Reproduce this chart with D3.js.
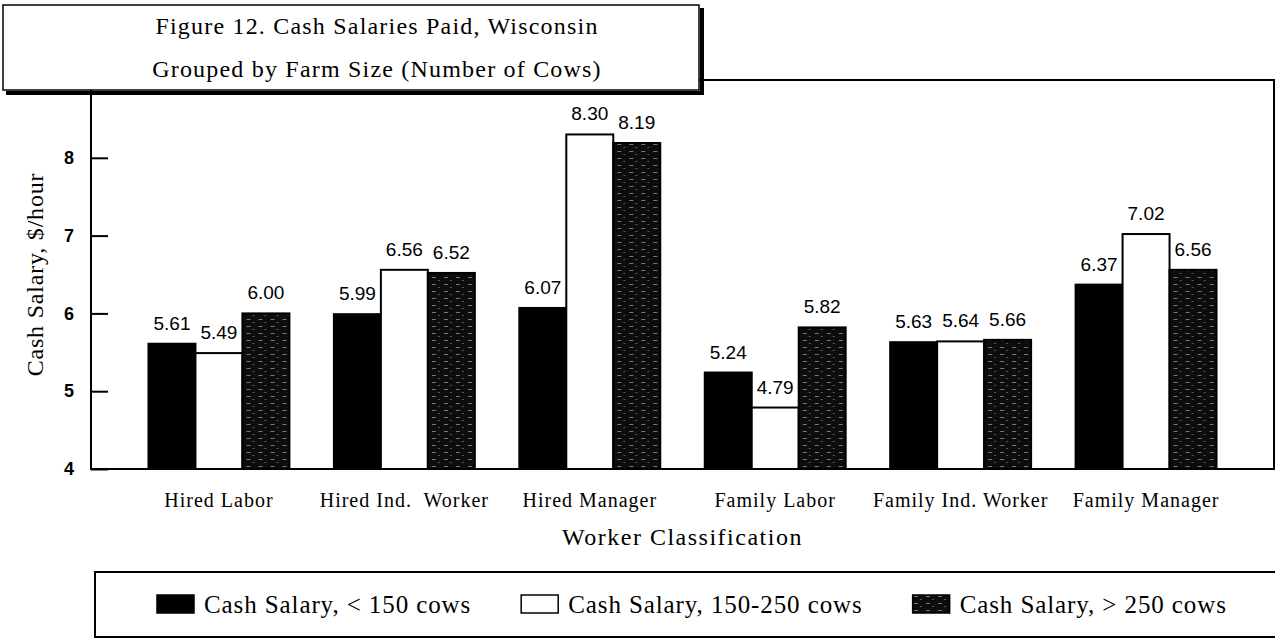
<!DOCTYPE html>
<html>
<head>
<meta charset="utf-8">
<script src="https://cdn.jsdelivr.net/npm/d3@7"></script>
<style>
  body { margin: 0; background: #fff; }
  svg { display: block; }
  text { white-space: pre; }
</style>
</head>
<body>
<div id="vis"></div>
<script>
//data----
const categories = ["Hired Labor", "Hired Ind.  Worker", "Hired Manager", "Family Labor", "Family Ind. Worker", "Family Manager"]
const seriesNames = ["Cash Salary, < 150 cows", "Cash Salary, 150-250 cows", "Cash Salary, > 250 cows"]
const small = [5.61, 5.99, 6.07, 5.24, 5.63, 6.37]
const medium = [5.49, 6.56, 8.30, 4.79, 5.64, 7.02]
const large = [6.00, 6.52, 8.19, 5.82, 5.66, 6.56]
const yTicks = [4, 5, 6, 7, 8]
const titleLines = ["Figure 12. Cash Salaries Paid, Wisconsin", "Grouped by Farm Size (Number of Cows)"]

const seriesValues = [small, medium, large]

//dimensions---
let dimensions = {
    width: 1275,
    height: 638,
    margins: { left: 91, right: 1, top: 80, bottom: 169 },
}
dimensions.boundedwidth = dimensions.width - dimensions.margins.left - dimensions.margins.right
dimensions.boundedheight = dimensions.height - dimensions.margins.top - dimensions.margins.bottom

const serif = "'Liberation Serif', 'Times New Roman', serif"
const sans = "'Liberation Sans', Arial, sans-serif"

//canvas----
const wrapper = d3.select("#vis")
    .append("svg")
    .attr("width", dimensions.width)
    .attr("height", dimensions.height)

// speckled dark fill for the > 250 cows series
const defs = wrapper.append("defs")
const pat = defs.append("pattern")
    .attr("id", "dots")
    .attr("patternUnits", "userSpaceOnUse")
    .attr("width", 12)
    .attr("height", 7)
pat.append("rect").attr("width", 12).attr("height", 7).attr("fill", "#0d0d0d")
pat.append("rect").attr("x", 2).attr("y", 1).attr("width", 4).attr("height", 1).attr("fill", "#777")
pat.append("rect").attr("x", 8).attr("y", 4).attr("width", 2).attr("height", 1).attr("fill", "#5a5a5a")

const fills = ["#000", "#fff", "url(#dots)"]

const bounds = wrapper.append("g")
    .attr("transform", `translate(${dimensions.margins.left},${dimensions.margins.top})`)

//scales------
const yScale = d3.scaleLinear()
    .domain([4, 9])
    .range([dimensions.boundedheight, 0])

const xScale = d3.scaleBand()
    .domain(categories)
    .range([0, dimensions.boundedwidth])
    .paddingInner(0.24)
    .paddingOuter(0.31)

const xSub = d3.scaleBand()
    .domain(d3.range(seriesNames.length))
    .range([0, xScale.bandwidth()])

//frame
bounds.append("rect")
    .attr("width", dimensions.boundedwidth)
    .attr("height", dimensions.boundedheight)
    .attr("fill", "none")
    .attr("stroke", "#000")
    .attr("stroke-width", 2)

//y axis
const yAxis = bounds.append("g")
    .call(d3.axisLeft(yScale).tickValues(yTicks).tickSizeInner(-17).tickSizeOuter(0).tickPadding(17).tickFormat(d3.format("d")))
yAxis.select(".domain").remove()
yAxis.selectAll("line").attr("stroke", "#000").attr("stroke-width", 2)
yAxis.selectAll("text")
    .style("font-family", sans)
    .style("font-size", "18px")
    .style("font-weight", "bold")
    .attr("fill", "#000")

wrapper.append("text")
    .attr("transform", `translate(43,${dimensions.margins.top + dimensions.boundedheight / 2}) rotate(-90)`)
    .attr("text-anchor", "middle")
    .style("font-family", serif)
    .style("font-size", "24px")
    .style("letter-spacing", "0.8px")
    .text("Cash Salary, $/hour")

//x labels
bounds.append("g")
    .selectAll("text")
    .data(categories)
    .enter().append("text")
    .attr("x", d => xScale(d) + xScale.bandwidth() / 2)
    .attr("y", dimensions.boundedheight + 38)
    .attr("text-anchor", "middle")
    .style("font-family", serif)
    .style("font-size", "20px")
    .style("letter-spacing", "1px")
    .text(d => d)

wrapper.append("text")
    .attr("x", dimensions.margins.left + dimensions.boundedwidth / 2)
    .attr("y", 545)
    .attr("text-anchor", "middle")
    .style("font-family", serif)
    .style("font-size", "24px")
    .style("letter-spacing", "1.5px")
    .text("Worker Classification")

//bars
const groups = bounds.append("g")
    .selectAll("g")
    .data(categories)
    .enter().append("g")
    .attr("transform", d => `translate(${xScale(d)},0)`)

groups.selectAll("rect")
    .data((d, i) => seriesValues.map((s, j) => ({ s: j, v: s[i] })))
    .enter().append("rect")
    .attr("x", d => xSub(d.s))
    .attr("width", xSub.bandwidth())
    .attr("y", d => yScale(d.v))
    .attr("height", d => dimensions.boundedheight - yScale(d.v))
    .attr("fill", d => fills[d.s])
    .attr("stroke", "#000")
    .attr("stroke-width", 2)

groups.selectAll(".val")
    .data((d, i) => seriesValues.map((s, j) => ({ s: j, v: s[i] })))
    .enter().append("text")
    .attr("class", "val")
    .attr("x", d => xSub(d.s) + xSub.bandwidth() / 2)
    .attr("y", d => yScale(d.v) - 14)
    .attr("text-anchor", "middle")
    .style("font-family", sans)
    .style("font-size", "19px")
    .text(d => d.v.toFixed(2))

//title box
const title = wrapper.append("g")
title.append("line").attr("x1", 6).attr("x2", 703).attr("y1", 93).attr("y2", 93).attr("stroke", "#000").attr("stroke-width", 4)
title.append("line").attr("x1", 702).attr("x2", 702).attr("y1", 8).attr("y2", 95).attr("stroke", "#000").attr("stroke-width", 4)
title.append("rect")
    .attr("x", 3).attr("y", 5).attr("width", 696).attr("height", 85)
    .attr("fill", "#fff").attr("stroke", "#000").attr("stroke-width", 1.5)
title.selectAll("text")
    .data(titleLines)
    .enter().append("text")
    .attr("x", 377)
    .attr("y", (d, i) => 34 + i * 43)
    .attr("text-anchor", "middle")
    .style("font-family", serif)
    .style("font-size", "24px")
    .style("letter-spacing", "1.2px")
    .text(d => d)

//legend
const legend = wrapper.append("g")
legend.append("rect")
    .attr("x", 95).attr("y", 572).attr("width", 1200).attr("height", 65)
    .attr("fill", "#fff").attr("stroke", "#000").attr("stroke-width", 2)

let lx = 157
seriesNames.forEach((name, i) => {
    legend.append("rect")
        .attr("x", lx).attr("y", 595).attr("width", 37).attr("height", 18)
        .attr("fill", fills[i]).attr("stroke", "#000").attr("stroke-width", 1.5)
    const t = legend.append("text")
        .attr("x", lx + 47).attr("y", 613)
        .style("font-family", serif)
        .style("font-size", "25px")
        .style("letter-spacing", "0.9px")
        .text(name)
    lx += 47 + t.node().getComputedTextLength() + 50
})
</script>
</body>
</html>
